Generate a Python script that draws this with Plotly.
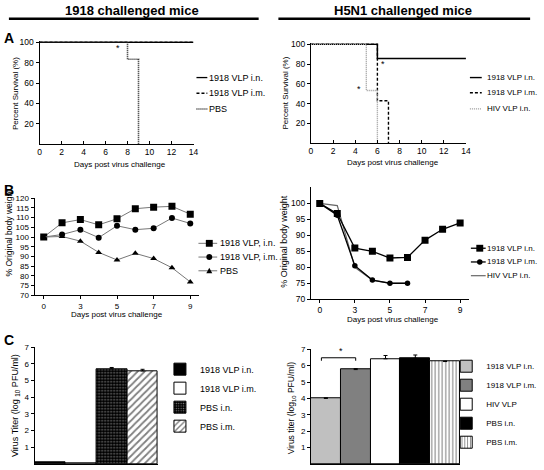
import plotly.graph_objects as go

W, H = 544, 470
FONT = "Liberation Sans, Arial, Helvetica, sans-serif"

# ---------------- data ----------------
# Panel A - percent survival (Kaplan-Meier style steps)
a1_days_in, a1_surv_in = [0, 14], [100, 100]
a1_days_im, a1_surv_im = [0, 14], [100, 100]
a1_days_pbs, a1_surv_pbs = [0, 8, 9], [100, 83.3, 0]
a2_days_in, a2_surv_in = [0, 6, 14], [100, 85.7, 85.7]
a2_days_im, a2_surv_im = [0, 6, 7], [100, 42.9, 0]
a2_days_hiv, a2_surv_hiv = [0, 5, 6], [100, 53.3, 0]
surv_x_ticks = [0, 2, 4, 6, 8, 10, 12, 14]
surv_y_ticks = [20, 40, 60, 80, 100]

# Panel B - % original body weight
weight_days = ["0", "2", "3", "4", "5", "6", "7", "8", "9"]
weight_day_labels = ["0", "3", "5", "7", "9"]
b1_in = [100, 107.3, 109.0, 106.3, 109.4, 114.6, 115.4, 115.8, 111.8]
b1_im = [100, 101.3, 103.8, 99.7, 105.8, 103.8, 104.5, 109.8, 107.0]
b1_pbs = [100, 100.3, 97.9, 92.1, 88.2, 91.6, 88.9, 84.2, 76.9]
b2_in = [100, 96.8, 86.0, 85.0, 82.9, 83.1, 88.5, 91.9, 93.9]
b2_im = [100, 96.3, 80.5, 76.0, 75.0, 75.0]
b2_hiv = [100, 99.3, 80.0, 76.0, 75.0, 75.0]
b1_y_ticks = [70, 75, 80, 85, 90, 95, 100, 105, 110, 115, 120]
b2_y_ticks = [70, 75, 80, 85, 90, 95, 100]

# Panel C - lung virus titers (log10 PFU/ml)
c1_groups = ["1918 VLP i.n.", "1918 VLP i.m.", "PBS i.n.", "PBS i.m."]
c1_titer = [0.12, 0.07, 5.71, 5.58]
c1_err = [0.0, 0.0, 0.08, 0.1]
c2_groups = ["1918 VLP i.n.", "1918 VLP i.m.", "HIV VLP", "PBS i.n.", "PBS i.m."]
c2_titer = [4.0, 5.76, 6.42, 6.45, 6.25]
c2_err = [0.04, 0.06, 0.2, 0.2, 0.03]
titer_ticks = [1, 2, 3, 4, 5, 6, 7]


def px(x):
    return x / W


def py(y):
    return 1 - y / H


fig = go.Figure()

# ---------------- Panel A ----------------
fig.add_trace(go.Scatter(x=a1_days_in, y=a1_surv_in, mode="lines", line_shape="hv",
                         line=dict(color="black", width=1.4), xaxis="x", yaxis="y", showlegend=False))
fig.add_trace(go.Scatter(x=a1_days_im, y=a1_surv_im, mode="lines", line_shape="hv",
                         line=dict(color="black", width=1.4, dash="3px,2px"), xaxis="x", yaxis="y", showlegend=False))
fig.add_trace(go.Scatter(x=a1_days_pbs, y=a1_surv_pbs, mode="lines", line_shape="hv",
                         line=dict(color="#222", width=1.6, dash="1px,1px"), xaxis="x", yaxis="y", showlegend=False))

fig.add_trace(go.Scatter(x=a2_days_in, y=a2_surv_in, mode="lines", line_shape="hv",
                         line=dict(color="black", width=1.5), xaxis="x2", yaxis="y2", showlegend=False))
fig.add_trace(go.Scatter(x=a2_days_im, y=a2_surv_im, mode="lines", line_shape="hv",
                         line=dict(color="black", width=1.4, dash="3px,2px"), xaxis="x2", yaxis="y2", showlegend=False))
fig.add_trace(go.Scatter(x=a2_days_hiv, y=a2_surv_hiv, mode="lines", line_shape="hv",
                         line=dict(color="#999", width=1.4, dash="1px,1px"), xaxis="x2", yaxis="y2", showlegend=False))

# ---------------- Panel B ----------------
fig.add_trace(go.Scatter(x=weight_days, y=b1_in, mode="lines+markers",
                         line=dict(color="#777", width=1), marker=dict(symbol="square", size=7, color="black"),
                         xaxis="x3", yaxis="y3", showlegend=False))
fig.add_trace(go.Scatter(x=weight_days, y=b1_im, mode="lines+markers",
                         line=dict(color="#777", width=1), marker=dict(symbol="circle", size=6, color="black"),
                         xaxis="x3", yaxis="y3", showlegend=False))
fig.add_trace(go.Scatter(x=weight_days, y=b1_pbs, mode="lines+markers",
                         line=dict(color="#777", width=1), marker=dict(symbol="triangle-up", size=6, color="black"),
                         xaxis="x3", yaxis="y3", showlegend=False))

fig.add_trace(go.Scatter(x=weight_days[:len(b2_hiv)], y=b2_hiv, mode="lines",
                         line=dict(color="#666", width=1.2), xaxis="x4", yaxis="y4", showlegend=False))
fig.add_trace(go.Scatter(x=weight_days, y=b2_in, mode="lines+markers",
                         line=dict(color="black", width=1.3), marker=dict(symbol="square", size=7, color="black"),
                         xaxis="x4", yaxis="y4", showlegend=False))
fig.add_trace(go.Scatter(x=weight_days[:len(b2_im)], y=b2_im, mode="lines+markers",
                         line=dict(color="black", width=1.3), marker=dict(symbol="circle", size=5.5, color="black"),
                         xaxis="x4", yaxis="y4", showlegend=False))

# ---------------- Panel C ----------------
c1_styles = [
    dict(color="black"),
    dict(color="white"),
    dict(color="black", pattern=dict(shape=".", fgcolor="white", bgcolor="black", size=3, solidity=0.25)),
    dict(color="white", pattern=dict(shape="/", fgcolor="black", bgcolor="white", size=5, solidity=0.35)),
]
for g, v, e, st in zip(c1_groups, c1_titer, c1_err, c1_styles):
    fig.add_trace(go.Bar(x=[g], y=[v], name=g, xaxis="x5", yaxis="y5", legend="legend",
                         marker=dict(line=dict(color="black", width=1), **st),
                         error_y=dict(type="data", array=[e], arrayminus=[0], symmetric=False,
                                      color="black", thickness=1, width=2, visible=e > 0)))

c2_styles = [
    dict(color="#c0c0c0"),
    dict(color="#808080"),
    dict(color="white"),
    dict(color="black"),
    dict(color="white", pattern=dict(shape="|", fgcolor="black", bgcolor="white", size=3.5, solidity=0.3)),
]
for g, v, e, st in zip(c2_groups, c2_titer, c2_err, c2_styles):
    fig.add_trace(go.Bar(x=[g], y=[v], name=g, xaxis="x6", yaxis="y6", legend="legend2",
                         marker=dict(line=dict(color="black", width=1), **st),
                         error_y=dict(type="data", array=[e], arrayminus=[0], symmetric=False,
                                      color="black", thickness=1, width=2)))

# ---------------- axes ----------------
tickfont = lambda s: dict(family=FONT, size=s, color="black")
base = dict(showgrid=False, zeroline=False, showline=True, linecolor="black", linewidth=1,
            tickcolor="black", ticklen=3, tickwidth=1, fixedrange=True)

fig.update_layout(
    xaxis=dict(base, domain=[px(38), px(194)], range=[0, 14], tickvals=surv_x_ticks, ticks="inside",
               tickfont=tickfont(8.5), anchor="y"),
    yaxis=dict(base, domain=[py(143), py(38)], range=[0, 101], tickvals=surv_y_ticks, ticks="outside",
               tickfont=tickfont(8.5), anchor="x"),
    xaxis2=dict(base, domain=[px(313), px(470)], range=[0, 14], tickvals=surv_x_ticks, ticks="inside",
                tickfont=tickfont(8.5), anchor="y2"),
    yaxis2=dict(base, domain=[py(142), py(40)], range=[0, 101], tickvals=surv_y_ticks, ticks="outside",
                tickfont=tickfont(8.5), anchor="x2"),
    xaxis3=dict(base, type="category", categoryorder="array", categoryarray=weight_days,
                domain=[px(33), px(200)], range=[-0.5, 8.5], tickvals=weight_day_labels,
                ticks="outside", tickfont=tickfont(8), anchor="y3"),
    yaxis3=dict(base, domain=[py(297), py(198)], range=[70, 120], tickvals=b1_y_ticks, ticks="outside",
                tickfont=tickfont(8), anchor="x3"),
    xaxis4=dict(base, type="category", categoryorder="array", categoryarray=weight_days,
                domain=[px(313), px(473)], range=[-0.5, 8.5], tickvals=weight_day_labels,
                ticks="outside", tickfont=tickfont(8.5), anchor="y4"),
    yaxis4=dict(base, domain=[py(301), py(187)], range=[70, 105], tickvals=b2_y_ticks, ticks="outside",
                tickfont=tickfont(8.5), anchor="x4"),
    xaxis5=dict(base, type="category", domain=[px(33), px(158)], range=[-0.5, 3.5],
                showticklabels=False, ticks="", anchor="y5"),
    yaxis5=dict(base, domain=[py(469), py(350)], range=[0, 7], tickvals=titer_ticks, ticks="outside",
                tickfont=tickfont(8), anchor="x5"),
    xaxis6=dict(base, type="category", domain=[px(313), px(464)], range=[-0.5, 4.5],
                showticklabels=False, ticks="", anchor="y6"),
    yaxis6=dict(base, domain=[py(469), py(352)], range=[0, 7], tickvals=titer_ticks, ticks="outside",
                tickfont=tickfont(8), anchor="x6"),
    barmode="overlay", bargap=0,
    legend=dict(x=px(160), y=py(357.5), xanchor="left", yanchor="top", bgcolor="rgba(0,0,0,0)",
                font=dict(family=FONT, size=9, color="black"), traceorder="normal", borderwidth=0),
    legend2=dict(x=px(450), y=py(354.5), xanchor="left", yanchor="top", bgcolor="rgba(0,0,0,0)",
                 font=dict(family=FONT, size=8, color="black"), traceorder="normal", borderwidth=0),
)

# ---------------- annotations / shapes ----------------
ann = []
shapes = []


def text(x, y, s, size, bold=False, angle=0, xanchor="center", ref=("paper", "paper")):
    ann.append(dict(x=x, y=y, xref=ref[0], yref=ref[1], text=("<b>%s</b>" % s) if bold else s,
                    showarrow=False, textangle=angle, xanchor=xanchor, yanchor="middle",
                    font=dict(family=FONT, size=size, color="black")))


# column titles and underlines
text(px(132), py(7), "1918 challenged mice", 13, bold=True)
text(px(406), py(7), "H5N1 challenged mice", 13, bold=True)
for x0, x1 in [(7, 260), (280, 535)]:
    shapes.append(dict(type="line", xref="paper", yref="paper", x0=px(x0), x1=px(x1), y0=py(15), y1=py(15),
                       line=dict(color="black", width=2.5)))

# panel letters
text(px(7), py(35), "A", 14, bold=True)
text(px(7), py(190), "B", 14, bold=True)
text(px(7), py(343), "C", 14, bold=True)

# axis titles
text(px(13), py(91), "Percent Survival (%)", 8, angle=-90)
text(px(287), py(91), "Percent Survival (%)", 8, angle=-90)
text(px(120), py(164), "Days post virus challenge", 8)
text(px(396), py(162), "Days post virus challenge", 8)
text(px(7), py(233), "% Original body weight", 8.5, angle=-90)
text(px(286), py(242), "% Original body weight", 9, angle=-90)
text(px(117), py(317), "Days post virus challenge", 8)
text(px(396), py(322), "Days post virus challenge", 8)
text(px(13), py(409), "Virus Titer (log <sub>10</sub> PFU/ml)", 9, angle=-90)
text(px(293), py(412), "Virus titer (log<sub>10</sub> PFU/ml)", 8.5, angle=-90)

# significance marks
text(7.1, 94, "*", 9, ref=("x", "y"))
text(6.5, 80, "*", 9, ref=("x2", "y2"))
text(4.3, 55, "*", 9, ref=("x2", "y2"))
text(0.5, 6.9, "*", 9, ref=("x6", "y6"))
for sx0, sy0, sx1, sy1 in [(-0.15, 6.48, 1.0, 6.48), (-0.15, 6.3, -0.15, 6.48), (1.0, 6.3, 1.0, 6.48)]:
    shapes.append(dict(type="line", xref="x6", yref="y6", x0=sx0, y0=sy0, x1=sx1, y1=sy1,
                       line=dict(color="black", width=1)))

# manual legends for line panels (A, B)
legA1 = [("1918 VLP i.n.", "black", 1.3, "solid"), ("1918 VLP i.m.", "black", 1.3, "3px,2px"),
         ("PBS", "#222", 1.5, "1px,1px")]
for (lab, col, lw, dsh), yy in zip(legA1, [75, 91, 107]):
    shapes.append(dict(type="line", xref="paper", yref="paper", x0=px(197), x1=px(208), y0=py(yy), y1=py(yy),
                       line=dict(color=col, width=lw, dash=dsh)))
    text(px(208), py(yy), lab, 9, xanchor="left")

legA2 = [("1918 VLP i.n.", "black", 1.4, "solid"), ("1918 VLP i.m.", "black", 1.3, "3px,2px"),
         ("HIV VLP i.n.", "#999", 1.3, "1px,1px")]
for (lab, col, lw, dsh), yy in zip(legA2, [75, 90.5, 107]):
    shapes.append(dict(type="line", xref="paper", yref="paper", x0=px(474), x1=px(486), y0=py(yy), y1=py(yy),
                       line=dict(color=col, width=lw, dash=dsh)))
    text(px(489), py(yy), lab, 8, xanchor="left")


def marker_shape(kind, cx, cy, r):
    if kind == "square":
        shapes.append(dict(type="rect", xref="paper", yref="paper", x0=px(cx - r), x1=px(cx + r),
                           y0=py(cy + r), y1=py(cy - r), fillcolor="black", line=dict(width=0)))
    elif kind == "circle":
        shapes.append(dict(type="circle", xref="paper", yref="paper", x0=px(cx - r), x1=px(cx + r),
                           y0=py(cy + r), y1=py(cy - r), fillcolor="black", line=dict(width=0)))
    elif kind == "triangle":
        path = "M %f,%f L %f,%f L %f,%f Z" % (px(cx - r), py(cy + r * 0.8), px(cx + r), py(cy + r * 0.8),
                                             px(cx), py(cy - r))
        shapes.append(dict(type="path", xref="paper", yref="paper", path=path, fillcolor="black",
                           line=dict(width=0)))


legB1 = [("1918 VLP, i.n.", "square", 3.5), ("1918 VLP, i.m.", "circle", 3), ("PBS", "triangle", 3)]
for (lab, mk, r), yy in zip(legB1, [244, 258, 272]):
    shapes.append(dict(type="line", xref="paper", yref="paper", x0=px(199), x1=px(218), y0=py(yy), y1=py(yy),
                       line=dict(color="#777", width=1)))
    marker_shape(mk, 210, yy, r)
    text(px(219), py(yy), lab, 9, xanchor="left")

legB2 = [("1918 VLP i.n.", "square", 3.5, "black", 1.3), ("1918 VLP i.m.", "circle", 2.8, "black", 1.3),
         ("HIV VLP i.n.", None, 0, "#666", 1.2)]
for (lab, mk, r, col, lw), yy in zip(legB2, [249, 263, 277]):
    shapes.append(dict(type="line", xref="paper", yref="paper", x0=px(475), x1=px(490), y0=py(yy), y1=py(yy),
                       line=dict(color=col, width=lw)))
    if mk:
        marker_shape(mk, 484, yy, r)
    text(px(489), py(yy), lab, 8, xanchor="left")

fig.update_layout(
    width=W, height=H, margin=dict(l=0, r=0, t=0, b=0),
    paper_bgcolor="white", plot_bgcolor="white",
    font=dict(family=FONT, size=9, color="black"),
    annotations=ann, shapes=shapes,
)

fig.write_html("out.html", config={"displayModeBar": False},
               post_script="document.body.style.margin='0';document.body.style.padding='0';"
                           "document.body.style.overflow='hidden';")
